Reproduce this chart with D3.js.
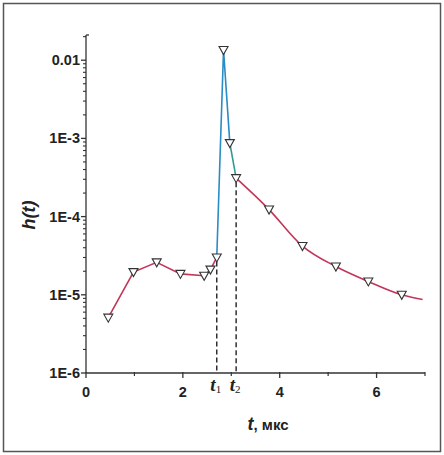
<!DOCTYPE html>
<html><head><meta charset="utf-8">
<script src="https://cdn.jsdelivr.net/npm/d3@7"></script>
<style>body{margin:0;background:#fff}svg{display:block}</style>
</head><body>
<script>
// Data
const tValues = [0.46, 0.98, 1.46, 1.95, 2.44, 2.57, 2.70, 2.84, 2.97, 3.10, 3.78, 4.47, 5.16, 5.83, 6.52];
const hValues = [5.1e-6, 1.95e-5, 2.6e-5, 1.85e-5, 1.75e-5, 2.1e-5, 3.0e-5, 0.0135, 8.7e-4, 3.1e-4, 1.23e-4, 4.2e-5, 2.3e-5, 1.48e-5, 1.0e-5];
// tail of fitted curve beyond the last marker
const tailT = [3.10, 3.78, 4.47, 5.16, 5.83, 6.52, 6.95];
const tailH = [3.1e-4, 1.23e-4, 4.2e-5, 2.3e-5, 1.48e-5, 1.0e-5, 8.7e-6];
const xTicks = [0, 2, 4, 6];
const xMinorTicks = [1, 3, 5, 7];
const yTicks = [1e-6, 1e-5, 1e-4, 1e-3, 1e-2];
const yTickLabels = ["1E-6", "1E-5", "1E-4", "1E-3", "0.01"];
const markIdx = {t1: 6, t2: 9};

const W = 444, H = 455;
const svg = d3.select("body").append("svg").attr("width", W).attr("height", H);
svg.append("rect").attr("x", 3.5).attr("y", 3.5).attr("width", 437).attr("height", 448)
  .attr("fill", "#fff").attr("stroke", "#555").attr("stroke-width", 1.5);

const x = d3.scaleLinear().domain([0, 7]).range([86, 425]);
const y = d3.scaleLog().domain([1e-6, 0.021]).range([373, 35]);

const axisColor = "#333";
const labelFont = "Liberation Sans, Arial, sans-serif";
// X axis
const gx = svg.append("g").attr("transform", `translate(0,${y(1e-6)})`);
gx.append("line").attr("x1", x(0)).attr("x2", x(7)).attr("stroke", axisColor).attr("stroke-width", 1.3);
gx.selectAll("line.maj").data(xTicks).join("line").attr("class","maj")
  .attr("x1", d => x(d)).attr("x2", d => x(d)).attr("y1", -1).attr("y2", 5)
  .attr("stroke", axisColor).attr("stroke-width", 1.3);
gx.selectAll("line.min").data(xMinorTicks).join("line").attr("class","min")
  .attr("x1", d => x(d)).attr("x2", d => x(d)).attr("y1", -1).attr("y2", 3)
  .attr("stroke", axisColor).attr("stroke-width", 1.2);
gx.selectAll("text").data(xTicks).join("text")
  .attr("x", d => x(d)).attr("y", 24).attr("text-anchor", "middle")
  .attr("font-family", labelFont).attr("font-weight", "bold")
  .attr("font-size", 14.5).attr("fill", "#222").text(d => d);

// Y axis
const gy = svg.append("g").attr("transform", `translate(${x(0)},0)`);
gy.append("line").attr("y1", y(1e-6)).attr("y2", y(0.021)).attr("stroke", axisColor).attr("stroke-width", 1.3);
gy.append("line").attr("x1", 0).attr("x2", 3).attr("y1", y(0.021)).attr("y2", y(0.021)).attr("stroke", axisColor).attr("stroke-width", 1.3);
const minor = [];
yTicks.forEach(d => { for (let k = 2; k <= 9; k++) { const v = d * k; if (v <= 0.021) minor.push(v); } });
gy.selectAll("line.min").data(minor).join("line").attr("class","min")
  .attr("x1", -3).attr("x2", 0).attr("y1", d => y(d)).attr("y2", d => y(d))
  .attr("stroke", axisColor).attr("stroke-width", 1.1);
gy.selectAll("line.maj").data(yTicks).join("line").attr("class","maj")
  .attr("x1", -5).attr("x2", 0).attr("y1", d => y(d)).attr("y2", d => y(d))
  .attr("stroke", axisColor).attr("stroke-width", 1.3);
gy.selectAll("text").data(yTicks).join("text")
  .attr("x", -6).attr("y", d => y(d) + 5).attr("text-anchor", "end")
  .attr("font-family", labelFont).attr("font-weight", "bold")
  .attr("font-size", 14.5).attr("fill", "#222").text((d, i) => yTickLabels[i]);

// Dashed guides
["t1", "t2"].forEach(k => {
  const i = markIdx[k];
  svg.append("line").attr("x1", x(tValues[i])).attr("x2", x(tValues[i]))
    .attr("y1", y(hValues[i]) + 4).attr("y2", y(1e-6))
    .attr("stroke", "#222").attr("stroke-width", 1.4).attr("stroke-dasharray", "5,3");
});

const pts = tValues.map((t, i) => [t, hValues[i]]);
const line = d3.line().x(d => x(d[0])).y(d => y(d[1]));
const red = "#c2365a", blue = "#2a8cc4", teal = "#2f9a98";
svg.append("path").attr("d", line(pts.slice(0, 7))).attr("fill", "none").attr("stroke", red).attr("stroke-width", 1.6);
svg.append("path").attr("d", line(pts.slice(6, 9))).attr("fill", "none").attr("stroke", blue).attr("stroke-width", 1.6);
svg.append("path").attr("d", line(pts.slice(8, 10))).attr("fill", "none").attr("stroke", teal).attr("stroke-width", 1.6);
const tail = tailT.map((t, i) => [t, tailH[i]]);
svg.append("path").attr("d", d3.line().curve(d3.curveMonotoneX).x(d => x(d[0])).y(d => y(d[1]))(tail))
  .attr("fill", "none").attr("stroke", red).attr("stroke-width", 1.6);

// Markers: downward triangles
svg.selectAll("path.mk").data(pts).join("path").attr("class", "mk")
  .attr("d", d => { const cx = x(d[0]), cy = y(d[1]); return `M${cx-4.5},${cy-3.5}L${cx+4.5},${cy-3.5}L${cx},${cy+4.5}Z`; })
  .attr("fill", "#fff").attr("stroke", "#333").attr("stroke-width", 1.1);

// t1, t2 labels
[["t1", "1"], ["t2", "2"]].forEach(([k, s]) => {
  const i = markIdx[k];
  const tx = svg.append("text").attr("x", x(tValues[i]) - 1).attr("y", 391).attr("text-anchor", "middle")
    .attr("font-family", "Liberation Serif, Times New Roman, serif").attr("fill", "#222");
  tx.append("tspan").attr("font-style", "italic").attr("font-weight", "bold").attr("font-size", 19).text("t");
  tx.append("tspan").attr("font-size", 11).attr("dy", 2).text(s);
});

// Axis titles
const xt = svg.append("text").attr("x", 268).attr("y", 430).attr("text-anchor", "middle")
  .attr("font-family", labelFont).attr("font-weight", "bold").attr("fill", "#222");
xt.append("tspan").attr("font-style", "italic").attr("font-size", 18).text("t");
xt.append("tspan").attr("font-size", 15).text(", мкс");

svg.append("text").attr("transform", "translate(35,215) rotate(-90)").attr("text-anchor", "middle")
  .attr("font-family", labelFont).attr("font-weight", "bold").attr("font-style", "italic")
  .attr("font-size", 18).attr("fill", "#222").text("h(t)");
</script>
</body></html>
